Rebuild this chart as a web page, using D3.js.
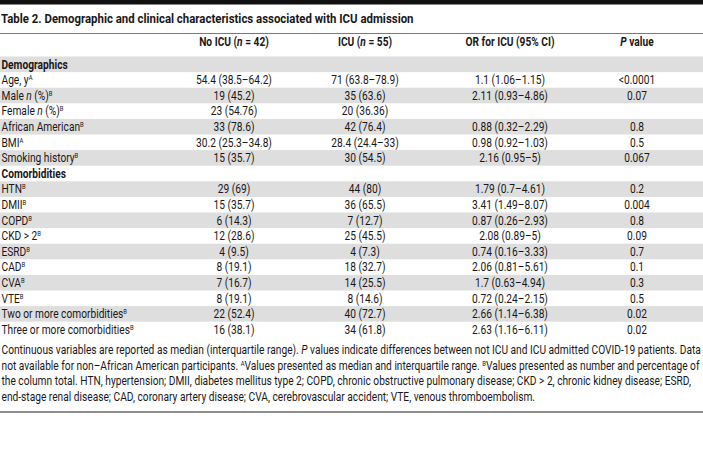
<!DOCTYPE html>
<html><head><meta charset="utf-8">
<script src="https://cdn.jsdelivr.net/npm/d3@7"></script>
<style>
body{margin:0;background:#fff}
svg{display:block}
text{font-family:Roboto,"Liberation Sans",sans-serif;fill:#1a1718}
</style>
</head><body>
<svg id="c" width="703" height="471"></svg>
<script>
// ---- data ----
const title = "Table 2. Demographic and clinical characteristics associated with ICU admission";
const columns = ["No ICU (_n_ = 42)", "ICU (_n_ = 55)", "OR for ICU (95% CI)", "_P_ value"];
const labels = ["Demographics","Age, y^A","Male _n_ (%)^B","Female _n_ (%)^B","African American^B","BMI^A","Smoking history^B","Comorbidities","HTN^B","DMII^B","COPD^B","CKD > 2^B","ESRD^B","CAD^B","CVA^B","VTE^B","Two or more comorbidities^B","Three or more comorbidities^B"];
const sectionRows = [0, 7];
const noICU = ["","54.4 (38.5–64.2)","19 (45.2)","23 (54.76)","33 (78.6)","30.2 (25.3–34.8)","15 (35.7)","","29 (69)","15 (35.7)","6 (14.3)","12 (28.6)","4 (9.5)","8 (19.1)","7 (16.7)","8 (19.1)","22 (52.4)","16 (38.1)"];
const icu = ["","71 (63.8–78.9)","35 (63.6)","20 (36.36)","42 (76.4)","28.4 (24.4–33)","30 (54.5)","","44 (80)","36 (65.5)","7 (12.7)","25 (45.5)","4 (7.3)","18 (32.7)","14 (25.5)","8 (14.6)","40 (72.7)","34 (61.8)"];
const orCI = ["","1.1 (1.06–1.15)","2.11 (0.93–4.86)","","0.88 (0.32–2.29)","0.98 (0.92–1.03)","2.16 (0.95–5)","","1.79 (0.7–4.61)","3.41 (1.49–8.07)","0.87 (0.26–2.93)","2.08 (0.89–5)","0.74 (0.16–3.33)","2.06 (0.81–5.61)","1.7 (0.63–4.94)","0.72 (0.24–2.15)","2.66 (1.14–6.38)","2.63 (1.16–6.11)"];
const pValue = ["","<0.0001","0.07","","0.8","0.5","0.067","","0.2","0.004","0.8","0.09","0.7","0.1","0.3","0.5","0.02","0.02"];
const footnotes = [
  "Continuous variables are reported as median (interquartile range). _P_ values indicate differences between not ICU and ICU admitted COVID-19 patients. Data",
  "not available for non–African American participants. ^AValues presented as median and interquartile range. ^BValues presented as number and percentage of",
  "the column total. HTN, hypertension; DMII, diabetes mellitus type 2; COPD, chronic obstructive pulmonary disease; CKD > 2, chronic kidney disease; ESRD,",
  "end-stage renal disease; CAD, coronary artery disease; CVA, cerebrovascular accident; VTE, venous thromboembolism."
];

// ---- layout ----
const W = 703;
const svg = d3.select("#c");
const bodySize = 12.2;
const rowY = d3.scaleBand().domain(d3.range(labels.length)).range([56.5, 56.5 + labels.length * 15.6]);
const colX = d3.scaleOrdinal().domain([0,1,2,3]).range([234, 365, 510, 637]);
const footY = d3.scalePoint().domain(d3.range(footnotes.length)).range([350, 396.5]);

function rich(textSel, str) {
  const parts = str.split(/(_[^_]+_|\^[A-Z])/).filter(s => s.length);
  let raised = false;
  parts.forEach(p => {
    if (p[0] === "^") {
      textSel.append("tspan").attr("font-size", "58%").attr("dy", -4.2).text(p.slice(1));
      raised = true;
    } else {
      const t = textSel.append("tspan").text(p[0] === "_" ? p.slice(1, -1) : p);
      if (p[0] === "_") t.attr("font-style", "italic");
      if (raised) { t.attr("dy", 4.2); raised = false; }
    }
  });
}

const texts = [];
function addText(x, y, str, opts = {}) {
  const t = svg.append("text")
    .attr("font-size", opts.size || bodySize)
    .attr("font-weight", opts.bold ? "bold" : null)
    .attr("text-anchor", opts.anchor || "start")
    .attr("dy", "0.36em");
  rich(t, str);
  texts.push({t, x, y, group: opts.group || "body"});
  return t;
}

// top bar and rules
svg.append("rect").attr("x", 0).attr("y", 0).attr("width", W).attr("height", 4.5).attr("fill", "#111");
svg.append("line").attr("x1", 0).attr("x2", W).attr("y1", 33.5).attr("y2", 33.5).attr("stroke", "#7a7a7a").attr("stroke-width", 1);
svg.append("line").attr("x1", 0).attr("x2", W).attr("y1", 412).attr("y2", 412).attr("stroke", "#6a6a6a").attr("stroke-width", 1.3);

// zebra bands
svg.selectAll("rect.band").data(labels.filter((d, i) => i % 2 === 0).map((d, k) => k * 2))
  .enter().append("rect").attr("class", "band")
  .attr("x", 0).attr("width", W)
  .attr("y", i => rowY(i)).attr("height", rowY.bandwidth())
  .attr("fill", "#dedede");

// title
addText(1, 18, title, {bold: true, size: 13.6, group: "title"});

// header
columns.forEach((c, j) => addText(colX(j), 42, c, {bold: true, anchor: "middle"}));

// rows
labels.forEach((lab, i) => {
  const yc = rowY(i) + rowY.bandwidth() / 2;
  addText(1.5, yc, lab, {bold: sectionRows.includes(i)});
  [noICU, icu, orCI, pValue].forEach((arr, j) => {
    if (arr[i]) addText(colX(j), yc, arr[i], {anchor: "middle"});
  });
});

// footnotes
const footTexts = footnotes.map((f, i) => addText(1.5, footY(i), f, {group: "foot"}));

// condense factors (the reference face is a narrow one)
const kBody = 699 / footTexts[0].node().getComputedTextLength();
const titleNode = texts.find(d => d.group === "title").t.node();
const kTitle = 413 / titleNode.getComputedTextLength();
texts.forEach(d => {
  const k = d.group === "title" ? kTitle : kBody;
  d.t.attr("transform", `translate(${d.x},${d.y}) scale(${k},1)`);
});
</script>
</body></html>
